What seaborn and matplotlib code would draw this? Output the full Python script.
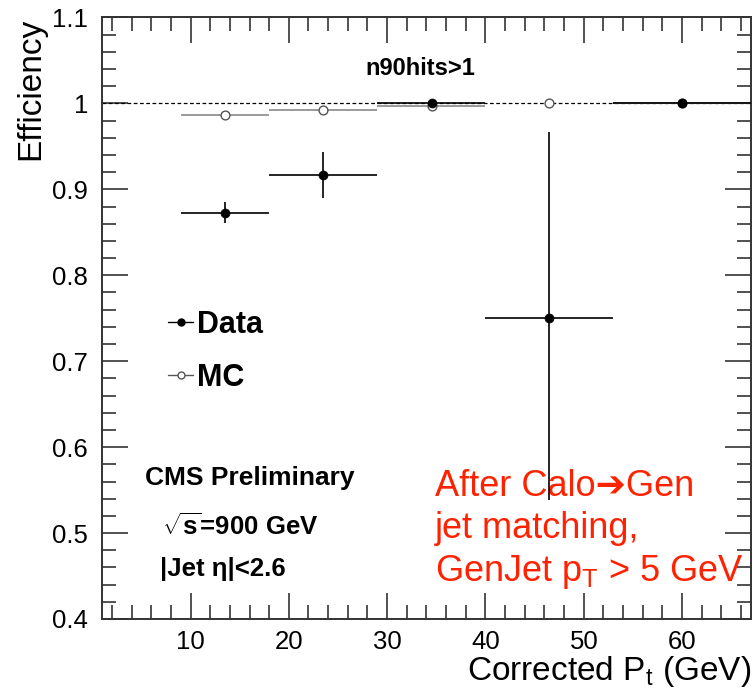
import numpy as np
import pandas as pd
import matplotlib
matplotlib.use('Agg')
import matplotlib.pyplot as plt
from matplotlib.lines import Line2D
from matplotlib.ticker import MultipleLocator, FormatStrFormatter
import seaborn as sns

sns.set_theme(style='ticks')
plt.rcParams['font.family'] = ['Liberation Sans', 'DejaVu Sans']
plt.rcParams['text.color'] = 'black'
plt.rcParams['axes.labelcolor'] = 'black'
plt.rcParams['mathtext.fontset'] = 'custom'
plt.rcParams['mathtext.rm'] = 'Liberation Sans'
plt.rcParams['mathtext.bf'] = 'Liberation Sans:bold'

# values
pt = [13.5, 23.5, 34.6, 46.5, 60.0]
bin_lo = [9.0, 18.0, 29.0, 40.0, 53.0]
bin_hi = [18.0, 29.0, 40.0, 53.0, 68.0]
eff_data = [0.873, 0.917, 1.0, 0.750, 1.0]
err_data_lo = [0.012, 0.027, 0.0, 0.212, 0.0]
err_data_hi = [0.012, 0.027, 0.0, 0.217, 0.0]

eff_mc = [0.987, 0.992, 0.997, 1.0, 1.0]
mc_lo = [9.0, 18.0, 29.0, 46.5, 53.0]
mc_hi = [18.0, 29.0, 40.0, 46.5, 68.0]

df = pd.DataFrame({'pt': pt, 'lo': bin_lo, 'hi': bin_hi, 'eff': eff_data,
                   'elo': err_data_lo, 'ehi': err_data_hi,
                   'mc': eff_mc, 'mlo': mc_lo, 'mhi': mc_hi})

fig = plt.figure(figsize=(7.55, 6.88), dpi=100)
ax = fig.add_axes([0.1351, 0.1003, 0.8596, 0.8743])

ax.axhline(1.0, color='black', ls=(0, (3, 2)), lw=0.9, zorder=1)

# MC
ax.errorbar(df['pt'], df['mc'],
            xerr=[df['pt'] - df['mlo'], df['mhi'] - df['pt']],
            fmt='none', ecolor='#9a9a9a', elinewidth=1.4, capsize=0, zorder=2)
sns.scatterplot(x='pt', y='mc', data=df, ax=ax, marker='o', s=40,
                facecolor='white', edgecolor='#555555', linewidth=1.0, zorder=3)

# Data
ax.errorbar(df['pt'], df['eff'],
            xerr=[df['pt'] - df['lo'], df['hi'] - df['pt']],
            yerr=[df['elo'], df['ehi']],
            fmt='none', ecolor='black', elinewidth=1.2, capsize=0, zorder=4)
sns.scatterplot(x='pt', y='eff', data=df, ax=ax, marker='o', s=42,
                color='black', edgecolor='black', linewidth=0.5, zorder=5)

ax.set_xlim(1, 67)
ax.set_ylim(0.4, 1.1)
ax.xaxis.set_major_locator(MultipleLocator(10))
ax.xaxis.set_minor_locator(MultipleLocator(2))
ax.yaxis.set_major_locator(MultipleLocator(0.1))
ax.yaxis.set_minor_locator(MultipleLocator(0.02))
ax.yaxis.set_major_formatter(FormatStrFormatter('%g'))
ax.tick_params(which='both', direction='in', top=True, right=True,
               colors='#222222', labelcolor='black', width=1.1)
ax.tick_params(which='major', length=19, labelsize=18.5, pad=8)
ax.tick_params(axis='y', which='major', pad=10)
ax.tick_params(which='minor', length=10)
for s in ax.spines.values():
    s.set_color('#333333')
    s.set_linewidth(1.4)

ax.set_xlabel(r'Corrected P$_\mathrm{t}$ (GeV)', fontsize=24, loc='right', labelpad=0)
ax.set_ylabel('Efficiency', fontsize=24, loc='top', labelpad=4)

ax.text(0.49, 0.915, 'n90hits>1', transform=ax.transAxes, ha='center', va='center',
        fontsize=17, fontweight='bold')

handles = [Line2D([], [], color='black', marker='o', markersize=5, lw=1.0),
           Line2D([], [], color='#555555', marker='o', markersize=5, lw=1.0,
                  markerfacecolor='white')]
ax.legend(handles, ['Data', 'MC'], loc='upper left', bbox_to_anchor=(0.06, 0.56),
          frameon=False, prop={'size': 22, 'weight': 'bold'},
          handlelength=0.8, handletextpad=0.15, labelspacing=0.75)

ax.text(0.066, 0.235, 'CMS Preliminary', transform=ax.transAxes, ha='left', va='center',
        fontsize=19, fontweight='bold')
ax.text(0.092, 0.153, r'$\sqrt{\mathbf{s}}$=900 GeV', transform=ax.transAxes, ha='left',
        va='center', fontsize=18.5, fontweight='bold')
ax.text(0.089, 0.083, '|Jet \u03b7|<2.6', transform=ax.transAxes, ha='left', va='center',
        fontsize=18.5, fontweight='bold')

ax.text(0.513, 0.148, 'After Calo\u2794Gen\njet matching,\nGenJet p$_\\mathrm{T}$ > 5 GeV',
        transform=ax.transAxes, ha='left', va='center', fontsize=26, color='#ff2200',
        linespacing=1.25)

fig.savefig('out.png', dpi=100)
